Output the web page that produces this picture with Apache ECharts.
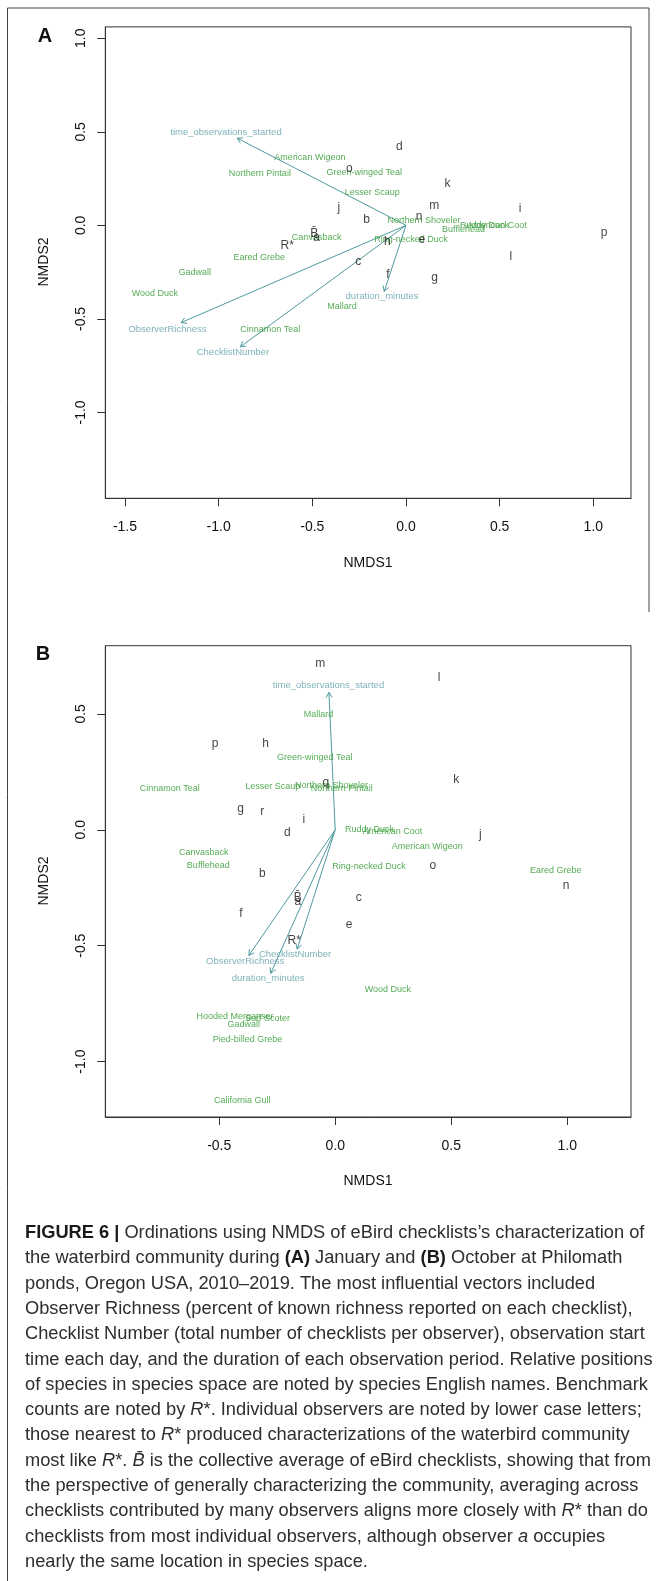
<!DOCTYPE html>
<html lang="en">
<head>
    <meta charset="UTF-8">
    <title>Figure 6 NMDS</title>
    <style>
        body {
            margin: 0;
            padding: 0;
            background-color: #fff;
        }
        #main {
            width: 657px;
            height: 1581px;
        }
    </style>
</head>
<body>
<div id="main"></div>

<script src="https://cdn.jsdelivr.net/npm/echarts@6/dist/echarts.min.js"></script>
<script>
    // panel A (January): observers, species and vectors  [label, NMDS1, NMDS2]
    const observersA = [
        ['d', -0.036, 0.418], ['o', -0.303, 0.302], ['k', 0.221, 0.224], ['m', 0.151, 0.104],
        ['i', 0.609, 0.091], ['j', -0.358, 0.097], ['b', -0.210, 0.029], ['n', 0.070, 0.045],
        ['p', 1.058, -0.040], ['B\u0304', -0.490, -0.042], ['a', -0.477, -0.067], ['R*', -0.634, -0.108],
        ['h', -0.100, -0.087], ['e', 0.084, -0.078], ['l', 0.559, -0.167], ['c', -0.255, -0.194],
        ['f', -0.096, -0.262], ['g', 0.152, -0.277]
    ];
    const speciesA = [
        ['American Wigeon', -0.513, 0.364], ['Northern Pintail', -0.780, 0.276],
        ['Green-winged Teal', -0.223, 0.282], ['Lesser Scaup', -0.180, 0.175],
        ['Northern Shoveler', 0.096, 0.025], ['Bufflehead', 0.307, -0.021],
        ['Ruddy Duck', 0.419, -0.003], ['American Coot', 0.486, -0.003],
        ['Canvasback', -0.477, -0.064], ['Ring-necked Duck', 0.027, -0.074],
        ['Eared Grebe', -0.783, -0.171], ['Gadwall', -1.127, -0.253],
        ['Wood Duck', -1.340, -0.362], ['Mallard', -0.342, -0.433],
        ['Cinnamon Teal', -0.725, -0.558]
    ];
    const vectorsA = [
        ['time_observations_started', -0.901, 0.466],
        ['duration_minutes', -0.116, -0.353],
        ['ObserverRichness', -1.201, -0.520],
        ['ChecklistNumber', -0.884, -0.649]
    ];
    const vectorLabelsA = [
        ['time_observations_started', -0.961, 0.498],
        ['duration_minutes', -0.128, -0.381],
        ['ObserverRichness', -1.273, -0.556],
        ['ChecklistNumber', -0.924, -0.681]
    ];

    // panel B (October)
    const observersB = [
        ['m', -0.064, 0.717], ['l', 0.448, 0.656], ['p', -0.518, 0.371], ['h', -0.300, 0.370],
        ['k', 0.522, 0.216], ['q', -0.040, 0.203], ['g', -0.408, 0.089], ['r', -0.314, 0.079],
        ['i', -0.135, 0.042], ['d', -0.206, -0.014], ['j', 0.626, -0.020], ['o', 0.421, -0.154],
        ['b', -0.314, -0.188], ['n', 0.995, -0.242], ['c', 0.101, -0.291], ['B\u0304', -0.161, -0.292],
        ['a', -0.161, -0.311], ['f', -0.406, -0.361], ['e', 0.060, -0.408], ['R*', -0.177, -0.478]
    ];
    const speciesB = [
        ['Mallard', -0.072, 0.499], ['Green-winged Teal', -0.088, 0.310],
        ['Cinnamon Teal', -0.713, 0.177], ['Lesser Scaup', -0.269, 0.185],
        ['Northern Shoveler', -0.016, 0.190], ['Northern Pintail', 0.028, 0.179],
        ['Ruddy Duck', 0.148, 0.003], ['American Coot', 0.247, -0.006],
        ['American Wigeon', 0.397, -0.074], ['Canvasback', -0.567, -0.097],
        ['Bufflehead', -0.547, -0.154], ['Ring-necked Duck', 0.146, -0.157],
        ['Eared Grebe', 0.951, -0.177], ['Wood Duck', 0.227, -0.687],
        ['Hooded Merganser', -0.432, -0.807], ['Surf Scoter', -0.292, -0.814],
        ['Gadwall', -0.394, -0.838], ['Pied-billed Grebe', -0.378, -0.904],
        ['California Gull', -0.401, -1.169]
    ];
    const vectorsB = [
        ['time_observations_started', -0.027, 0.593],
        ['ObserverRichness', -0.372, -0.542],
        ['ChecklistNumber', -0.164, -0.515],
        ['duration_minutes', -0.278, -0.619]
    ];
    const vectorLabelsB = [
        ['time_observations_started', -0.029, 0.621],
        ['ObserverRichness', -0.388, -0.569],
        ['ChecklistNumber', -0.173, -0.539],
        ['duration_minutes', -0.289, -0.643]
    ];

    // axis ticks
    const xTicksA = [-1.5, -1.0, -0.5, 0.0, 0.5, 1.0];
    const yTicksA = [-1.0, -0.5, 0.0, 0.5, 1.0];
    const xTicksB = [-0.5, 0.0, 0.5, 1.0];
    const yTicksB = [-1.0, -0.5, 0.0, 0.5];

    const captionLines = [
        '{b|FIGURE 6 |} Ordinations using NMDS of eBird checklists\u2019s characterization of',
        'the waterbird community during {b|(A)} January and {b|(B)} October at Philomath',
        'ponds, Oregon USA, 2010\u20132019. The most influential vectors included',
        'Observer Richness (percent of known richness reported on each checklist),',
        'Checklist Number (total number of checklists per observer), observation start',
        'time each day, and the duration of each observation period. Relative positions',
        'of species in species space are noted by species English names. Benchmark',
        'counts are noted by {i|R}*. Individual observers are noted by lower case letters;',
        'those nearest to {i|R}* produced characterizations of the waterbird community',
        'most like {i|R}*. {i|B\u0304} is the collective average of eBird checklists, showing that from',
        'the perspective of generally characterizing the community, averaging across',
        'checklists contributed by many observers aligns more closely with {i|R}* than do',
        'checklists from most individual observers, although observer {i|a} occupies',
        'nearly the same location in species space.'
    ];

    const FONT = "'Liberation Sans', Arial, sans-serif";
    const GREEN = '#2a962a';
    const TEAL = '#4f9a9f';
    const TEAL_TEXT = '#5c9fa6';

    function valueAxis(index, min, max, ticks) {
        return {
            type: 'value',
            gridIndex: index,
            min: min,
            max: max,
            splitLine: { show: false },
            axisLine: { show: true, onZero: false, lineStyle: { color: '#333', width: 1 } },
            axisTick: { show: true, inside: false, length: 8, customValues: ticks, lineStyle: { color: '#333' } },
            axisLabel: {
                customValues: ticks,
                formatter: v => v.toFixed(1),
                color: '#111',
                fontSize: 14,
                fontFamily: FONT
            }
        };
    }

    function textSeries(rows, idx, color, size) {
        return {
            type: 'scatter',
            xAxisIndex: idx,
            yAxisIndex: idx,
            symbolSize: 1,
            itemStyle: { color: 'transparent' },
            silent: true,
            data: rows.map(r => [r[1], r[2], r[0]]),
            label: {
                show: true,
                position: 'inside',
                formatter: p => p.value[2],
                color: color,
                fontSize: size,
                fontFamily: FONT
            }
        };
    }

    // arrows from the origin, with an open head like R's arrows()
    function arrowSeries(rows, idx) {
        return {
            type: 'custom',
            xAxisIndex: idx,
            yAxisIndex: idx,
            silent: true,
            data: rows.map(r => [r[1], r[2]]),
            renderItem: function (params, api) {
                const o = api.coord([0, 0]);
                const t = api.coord([api.value(0), api.value(1)]);
                const ang = Math.atan2(t[1] - o[1], t[0] - o[0]);
                const len = 6, spread = Math.PI / 6;
                const p1 = [t[0] - len * Math.cos(ang - spread), t[1] - len * Math.sin(ang - spread)];
                const p2 = [t[0] - len * Math.cos(ang + spread), t[1] - len * Math.sin(ang + spread)];
                return {
                    type: 'group',
                    children: [
                        { type: 'line', shape: { x1: o[0], y1: o[1], x2: t[0], y2: t[1] },
                          style: { stroke: TEAL, lineWidth: 1 } },
                        { type: 'polyline', shape: { points: [p1, t, p2] },
                          style: { stroke: TEAL, fill: 'none', lineWidth: 1 } }
                    ]
                };
            }
        };
    }

    const graphics = [
        // outer figure frame
        { type: 'polyline', shape: { points: [[7.5, 1581], [7.5, 8], [649, 8], [649, 612]] },
          style: { stroke: '#444', fill: 'none', lineWidth: 1 } },
        { type: 'text', x: 45, y: 36, style: { text: 'A', font: 'bold 20px ' + FONT, fill: '#111', align: 'center', verticalAlign: 'middle' } },
        { type: 'text', x: 43, y: 654, style: { text: 'B', font: 'bold 20px ' + FONT, fill: '#111', align: 'center', verticalAlign: 'middle' } },
        { type: 'text', x: 368, y: 563, style: { text: 'NMDS1', font: '14px ' + FONT, fill: '#111', align: 'center', verticalAlign: 'middle' } },
        { type: 'text', x: 368, y: 1181, style: { text: 'NMDS1', font: '14px ' + FONT, fill: '#111', align: 'center', verticalAlign: 'middle' } },
        { type: 'text', x: 44, y: 262, rotation: Math.PI / 2, style: { text: 'NMDS2', font: '14px ' + FONT, fill: '#111', align: 'center', verticalAlign: 'middle' } },
        { type: 'text', x: 44, y: 881, rotation: Math.PI / 2, style: { text: 'NMDS2', font: '14px ' + FONT, fill: '#111', align: 'center', verticalAlign: 'middle' } }
    ];

    const CAP_FONT = "'Liberation Sans Narrow', 'Liberation Sans', sans-serif";
    const CAP_SIZE = 18.25;
    captionLines.forEach((line, i) => {
        graphics.push({
            type: 'text',
            x: 25,
            y: 1233 + i * 25.3,
            style: {
                text: line,
                fontSize: CAP_SIZE,
                fontFamily: CAP_FONT,
                fill: '#2e2e2e',
                align: 'left',
                verticalAlign: 'middle',
                rich: {
                    b: { fontSize: CAP_SIZE, fontFamily: CAP_FONT, fontWeight: 'bold', fill: '#1a1a1a' },
                    i: { fontSize: CAP_SIZE, fontFamily: CAP_FONT, fontStyle: 'italic', fill: '#2e2e2e' }
                }
            }
        });
    });

    const chart = echarts.init(document.getElementById('main'), null, { renderer: 'canvas' });

    const option = {
        animation: false,
        backgroundColor: '#fff',
        grid: [
            { left: 105.3, top: 26.9, width: 525.7, height: 471.4, show: true, borderColor: '#333', borderWidth: 1 },
            { left: 105.3, top: 645.7, width: 525.7, height: 471.3, show: true, borderColor: '#333', borderWidth: 1 }
        ],
        xAxis: [
            Object.assign(valueAxis(0, -1.605, 1.201, xTicksA), { position: 'bottom' }),
            Object.assign(valueAxis(1, -0.991, 1.275, xTicksB), { position: 'bottom' })
        ],
        yAxis: [
            valueAxis(0, -1.459, 1.061, yTicksA),
            valueAxis(1, -1.239, 0.794, yTicksB)
        ],
        series: [
            arrowSeries(vectorsA, 0),
            textSeries(speciesA, 0, GREEN, 9),
            textSeries(vectorLabelsA, 0, TEAL_TEXT, 9.5),
            textSeries(observersA, 0, '#111', 12),
            arrowSeries(vectorsB, 1),
            textSeries(speciesB, 1, GREEN, 9),
            textSeries(vectorLabelsB, 1, TEAL_TEXT, 9.5),
            textSeries(observersB, 1, '#111', 12)
        ],
        graphic: graphics
    };

    // y tick labels are written along the axis, as in R
    option.yAxis.forEach(ax => {
        ax.axisLabel.rotate = 90;
        ax.axisLabel.margin = 17;
    });
    option.xAxis.forEach(ax => {
        ax.axisLabel.margin = 22;
    });

    chart.setOption(option);
</script>
</body>
</html>
